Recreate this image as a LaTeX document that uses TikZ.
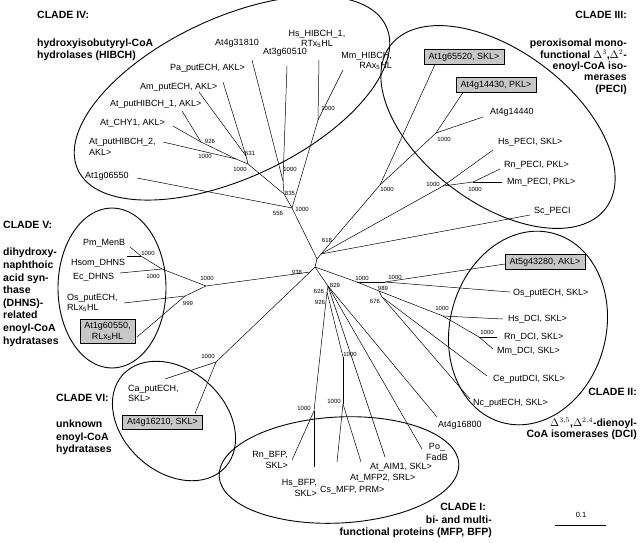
\documentclass[tikz,border=0pt]{standalone}
\usepackage{fontspec}
\setmainfont{Liberation Sans}
\usetikzlibrary{positioning}

\tikzset{
  branch/.style={line width=0.5pt},
  clade/.style={line width=0.9pt},
  leaf/.style={font=\fontsize{9}{10.5}\selectfont, inner sep=0pt},
  boot/.style={font=\fontsize{6}{7}\selectfont, inner sep=0pt},
  locus/.style={leaf, draw, line width=0.6pt, fill=black!22, inner xsep=4.5pt, inner ysep=3.2pt},
  title/.style={font=\fontsize{10.5}{#1}\selectfont\bfseries, inner sep=0pt},
  title/.default=11.3
}

\begin{document}
\begin{tikzpicture}[x=1pt,y=-1pt]
  \useasboundingbox (0,0) rectangle (640,542);

  \draw[clade, rotate around={25:(232,98)}]  (232,98)  ellipse [x radius=170pt, y radius=80pt];
  \draw[clade, rotate around={-37:(498,127)}] (498,127) ellipse [x radius=135pt, y radius=76pt];
  \draw[clade]                               (112,288) ellipse [x radius=54pt, y radius=80pt];
  \draw[clade, rotate around={-42:(174,421)}] (174,421) ellipse [x radius=69pt, y radius=51pt];
  \draw[clade, rotate around={-15:(528,328)}] (528,328) ellipse [x radius=78pt, y radius=98pt];
  \draw[clade, rotate around={3:(339,470)}]   (339,470) ellipse [x radius=120pt, y radius=53pt];

  \node[title, anchor=west] (clade iv) at (37,15) {CLADE IV:};
  \node[title, anchor=north west, align=left] (hibch text) at (37,39) {hydroxyisobutyryl-CoA\\hydrolases (HIBCH)};
  \node[title, anchor=east] (clade iii) at (627,15) {CLADE III:};
  \node[title, anchor=north east, align=right] (peci text) at (627,39)
    {peroxisomal mono-\\functional $\Delta^{3}$,$\Delta^{2}$-\\enoyl-CoA iso-\\merases\hspace*{3pt}\\(PECI)};
  \node[title, anchor=west] (clade v) at (3,225) {CLADE V:};
  \node[title=12.6, anchor=north west, align=left] (dhns text) at (3,248)
    {dihydroxy-\\naphthoic\\acid syn-\\thase\\(DHNS)-\\related\\enoyl-CoA\\hydratases};
  \node[title, anchor=west] (clade vi) at (56,398) {CLADE VI:};
  \node[title=12.5, anchor=north west, align=left] (unknown text) at (56,420) {unknown\\enoyl-CoA\\hydratases};
  \node[title, anchor=east] (clade ii) at (637,392) {CLADE II:};
  \node[title, anchor=north east, align=right] (dci text) at (637,418)
    {$\Delta^{3,5}$,$\Delta^{2,4}$-dienoyl-\\CoA isomerases (DCI)};
  \node[title, anchor=east] (clade i) at (486,507) {CLADE I:};
  \node[title, anchor=north east, align=right] (bfp text) at (492,516)
    {bi- and multi-\\functional proteins (MFP, BFP)};

  \coordinate (n1) at (317,259);
  \coordinate (n2) at (315,267);

  \coordinate (hib0) at (292,208);
  \coordinate (hib835) at (284,194);
  \coordinate (hibJ) at (283,181);
  \coordinate (hibK) at (318,120);
  \coordinate (hibB) at (248,164);
  \coordinate (hib631) at (246,156);
  \coordinate (hibA) at (236,159);
  \coordinate (hib926) at (201,142);
  \coordinate (t4g31810) at (252,60);
  \coordinate (t3g60510) at (287,66);
  \coordinate (thshib) at (319,60);
  \coordinate (tmmhib) at (343,70);
  \coordinate (tpa) at (223,82);
  \coordinate (tam) at (199,92);
  \coordinate (tput1) at (182,111);
  \coordinate (tchy) at (173,126);
  \coordinate (tput2) at (163,142);
  \coordinate (t1g06550) at (137,178);

  \coordinate (pec0) at (321,254);
  \coordinate (pecA) at (380,185);
  \coordinate (pecB) at (436,133);
  \coordinate (pecC) at (443,186);
  \coordinate (pecD) at (473,182);
  \coordinate (t1g65520) at (435,64.5);
  \coordinate (t4g14430) at (463,92.5);
  \coordinate (t4g14440) at (483,117);
  \coordinate (thspeci) at (493,150);
  \coordinate (trnpeci) at (500,169);
  \coordinate (tmmpeci) at (502,182);
  \coordinate (tscpeci) at (530,215);

  \coordinate (n938) at (310,272);
  \coordinate (dhns0) at (206,286);
  \coordinate (dhns1) at (162,269);
  \coordinate (dhnsM) at (141,256);
  \coordinate (dhns999) at (185,296);
  \coordinate (tpm) at (130,247);
  \coordinate (thsom) at (127,256);
  \coordinate (tec) at (120,273);
  \coordinate (tosrl) at (124,303);
  \coordinate (t1g60550) at (137,337);
  \coordinate (unk0) at (216,362);
  \coordinate (tca) at (165,379);
  \coordinate (t4g16210) at (195,413.5);

  \coordinate (dci0) at (357,282);
  \coordinate (dciA) at (385,282);
  \coordinate (dci989) at (379,291);
  \coordinate (dci676) at (382,297);
  \coordinate (dciH) at (443,316);
  \coordinate (dciR) at (479,337);
  \coordinate (t5g43280) at (505,264);
  \coordinate (tosskl) at (510,292);
  \coordinate (thsdci) at (503,319);
  \coordinate (trndci) at (497,337);
  \coordinate (tmmdci) at (493,349);
  \coordinate (tce) at (487,376);
  \coordinate (tnc) at (470,399);

  \coordinate (bfp829) at (328,286);
  \coordinate (bfp626) at (327,292);
  \coordinate (bfp926) at (326,301);
  \coordinate (bfpRH) at (314,411);
  \coordinate (bfpM) at (343,357);
  \coordinate (bfpMC) at (343,404);
  \coordinate (t4g16800) at (437,417);
  \coordinate (tpo) at (422,449);
  \coordinate (taim) at (385,457);
  \coordinate (tmfp) at (361,462);
  \coordinate (tcs) at (337,462);
  \coordinate (trnbfp) at (292,460);
  \coordinate (thsbfp) at (314,467);

  \foreach \a/\b in {n1/n2, n1/hib0, n1/pec0,
      hib0/t1g06550, hib0/hib835, hib0/hibK, hibK/thshib, hibK/tmmhib,
      hib835/hibJ, hib835/hibB, hibJ/t4g31810, hibJ/t3g60510,
      hibB/hib631, hibB/hibA, hib631/tpa, hib631/tam, hibA/hib926, hibA/tput2,
      hib926/tchy, hib926/tput1,
      pec0/pecA, pec0/pecC, pec0/tscpeci, pecA/t1g65520, pecA/pecB,
      pecB/t4g14430, pecB/t4g14440, pecC/thspeci, pecC/pecD, pecD/trnpeci, pecD/tmmpeci,
      n2/n938, n938/dhns0, n938/unk0, dhns0/dhns1, dhns0/dhns999, dhns1/dhnsM, dhns1/tec,
      dhnsM/tpm, dhnsM/thsom, dhns999/tosrl, dhns999/t1g60550, unk0/tca, unk0/t4g16210,
      n2/dci0, dci0/dciA, dci0/dci989, dciA/t5g43280, dciA/tosskl, dci989/dciH, dci989/dci676,
      dciH/thsdci, dciH/dciR, dciR/trndci, dciR/tmmdci, dci676/tce, dci676/tnc,
      n2/bfp829, bfp829/bfp626, bfp626/bfp926, bfp926/bfpRH, bfpRH/trnbfp, bfpRH/thsbfp,
      bfp626/bfpM, bfpM/bfpMC, bfpMC/tmfp, bfpMC/tcs, bfp829/taim, bfp829/tpo, bfp829/t4g16800}
    \draw[branch] (\a) -- (\b);

  \node[leaf] (at4g31810) at (237,43) {At4g31810};
  \node[leaf] (at3g60510) at (285,52) {At3g60510};
  \node[leaf, align=center] (hs hibch) at (317,39) {Hs\_HIBCH\_1,\\RTx\textsubscript{5}HL};
  \node[leaf, align=right, anchor=east] (mm hibch) at (392,61) {Mm\_HIBCH,\\RAx\textsubscript{5}HL};
  \node[leaf, anchor=west] (pa putech) at (170,68) {Pa\_putECH, AKL>};
  \node[leaf, anchor=west] (am putech) at (140,87) {Am\_putECH, AKL>};
  \node[leaf, anchor=west] (at puthibch1) at (110,104) {At\_putHIBCH\_1, AKL>};
  \node[leaf, anchor=west] (at chy1) at (100,123) {At\_CHY1, AKL>};
  \node[leaf, anchor=west, align=left] (at puthibch2) at (89,147) {At\_putHIBCH\_2,\\AKL>};
  \node[leaf, anchor=west] (at1g06550) at (85,176) {At1g06550};

  \node[locus] (at1g65520) at (464,57) {At1g65520, SKL>};
  \node[locus] (at4g14430) at (496,85) {At4g14430, PKL>};
  \node[leaf, anchor=west] (at4g14440) at (490,112) {At4g14440};
  \node[leaf, anchor=west] (hs peci) at (498,142) {Hs\_PECI, SKL>};
  \node[leaf, anchor=west] (rn peci) at (504,165) {Rn\_PECI, PKL>};
  \node[leaf, anchor=west] (mm peci) at (507,182) {Mm\_PECI, PKL>};
  \node[leaf, anchor=west] (sc peci) at (534,211) {Sc\_PECI};

  \node[leaf, anchor=west] (pm menb) at (83,243) {Pm\_MenB};
  \node[leaf, anchor=west] (hsom dhns) at (71,263) {Hsom\_DHNS};
  \node[leaf, anchor=west] (ec dhns) at (73,277) {Ec\_DHNS};
  \node[leaf, anchor=west, align=left] (os putech rl) at (67,303) {Os\_putECH,\\RLx\textsubscript{5}HL};
  \node[locus, align=center] (at1g60550) at (107.5,331.5) {At1g60550,\\RLx\textsubscript{5}HL};

  \node[leaf, anchor=west, align=left] (ca putech) at (128,393.5) {Ca\_putECH,\\SKL>};
  \node[locus] (at4g16210) at (162.5,422.5) {At4g16210, SKL>};

  \node[locus] (at5g43280) at (545,262) {At5g43280, AKL>};
  \node[leaf, anchor=west] (os putech skl) at (513,293) {Os\_putECH, SKL>};
  \node[leaf, anchor=west] (hs dci) at (508,319) {Hs\_DCI, SKL>};
  \node[leaf, anchor=west] (rn dci) at (504,337) {Rn\_DCI, SKL>};
  \node[leaf, anchor=west] (mm dci) at (497,351) {Mm\_DCI, SKL>};
  \node[leaf, anchor=west] (ce putdci) at (493,379) {Ce\_putDCI, SKL>};
  \node[leaf, anchor=west] (nc putech) at (473,403) {Nc\_putECH, SKL>};

  \node[leaf, anchor=west] (at4g16800) at (438,425) {At4g16800};
  \node[leaf, align=center] (po fadb) at (437,452) {Po\_\\FadB};
  \node[leaf, anchor=west] (at aim1) at (370,467) {At\_AIM1, SKL>};
  \node[leaf, anchor=west] (at mfp2) at (350,478) {At\_MFP2, SRL>};
  \node[leaf, anchor=west] (cs mfp) at (320,490) {Cs\_MFP, PRM>};
  \node[leaf, align=right, anchor=east] (rn bfp) at (288,460) {Rn\_BFP,\\SKL>};
  \node[leaf, align=right, anchor=east] (hs bfp) at (317,488) {Hs\_BFP,\\SKL>};

  \node[boot] (bs chy) at (210,141) {926};
  \node[boot] (bs put2) at (205,156) {1000};
  \node[boot] (bs pa) at (250,153) {631};
  \node[boot] (bs put) at (240,169) {1000};
  \node[boot] (bs at4g) at (290,169) {1000};
  \node[boot] (bs 835) at (290,193) {835};
  \node[boot] (bs 556) at (278,213) {556};
  \node[boot] (bs hib) at (302,209) {1000};
  \node[boot] (bs hs hib) at (328,108) {1000};
  \node[boot] (bs 618) at (327,240) {618};
  \node[boot] (bs peci a) at (387,189) {1000};
  \node[boot] (bs peci b) at (444,139) {1000};
  \node[boot] (bs peci c) at (433,184) {1000};
  \node[boot] (bs peci d) at (475,189) {1000};
  \node[boot] (bs menb) at (148,253) {1000};
  \node[boot] (bs dhns) at (153,276) {1000};
  \node[boot] (bs dhns all) at (207,278) {1000};
  \node[boot] (bs 999) at (188,303) {999};
  \node[boot] (bs 938) at (297,272) {938};
  \node[boot] (bs unk) at (208,356) {1000};
  \node[boot] (bs dci a) at (362,278) {1000};
  \node[boot] (bs dci b) at (395,277) {1000};
  \node[boot] (bs 989) at (383,288) {989};
  \node[boot] (bs 676) at (375,301) {676};
  \node[boot] (bs hs dci) at (442,308) {1000};
  \node[boot] (bs rn dci) at (487,332) {1000};
  \node[boot] (bs 829) at (335,285) {829};
  \node[boot] (bs 626) at (319,291) {626};
  \node[boot] (bs 926) at (320,302) {926};
  \node[boot] (bs mfp) at (350,354) {1000};
  \node[boot] (bs bfp) at (304,408) {1000};
  \node[boot] (bs mfp2) at (334,401) {1000};

  \coordinate (scale left) at (555,525);
  \coordinate (scale right) at (606,525);
  \draw[branch] (scale left) -- (scale right);
  \node[boot, font=\fontsize{7.5}{8}\selectfont] (scale label) at (581,515) {0.1};
\end{tikzpicture}
\end{document}
